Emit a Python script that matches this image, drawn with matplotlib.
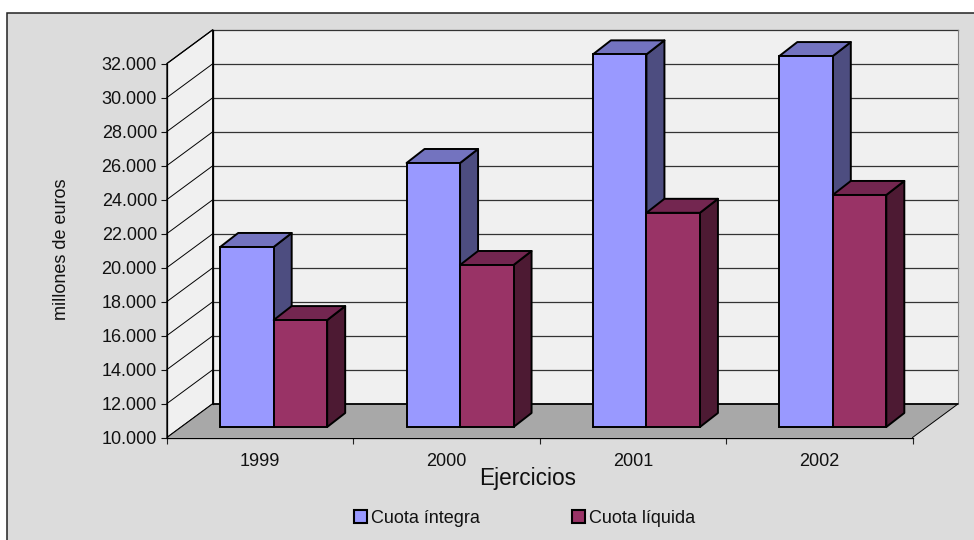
import numpy as np
import matplotlib
matplotlib.use('Agg')
import matplotlib.pyplot as plt
from matplotlib.patches import Rectangle, Patch
from matplotlib.ticker import FuncFormatter

years = ['1999', '2000', '2001', '2002']
cuota_integra = [20590, 25530, 31920, 31820]
cuota_liquida = [16290, 19530, 22600, 23650]
y_ticks = list(range(10000, 32001, 2000))

plt.rcParams['font.family'] = ['Liberation Sans', 'DejaVu Sans']

W, H = 974, 540
# pixel position of the front plane of the 3D box
LEFT, RIGHT, TOP, BOTTOM = 167, 912.5, 63.5, 437.5
YMIN, YMAX = 10000, 32000

fig = plt.figure(figsize=(W / 100, H / 100), dpi=100, facecolor='white')
fig.add_artist(Rectangle((7 / W, -0.01), 1.01, 1.01 - 13 / H, transform=fig.transFigure,
                         fc='#dcdcdc', ec='#222222', lw=1.1, zorder=-1))
ax = fig.add_axes([LEFT / W, 1 - BOTTOM / H, (RIGHT - LEFT) / W, (BOTTOM - TOP) / H])
ax.patch.set_visible(False)

# px to data units
px_x = 4 / (RIGHT - LEFT)
px_y = (YMAX - YMIN) / (BOTTOM - TOP)
wall_dx, wall_dy = 45.7 * px_x, 33.7 * px_y
bar_dx, bar_dy = 13.5 * px_x, 10.5 * px_y
depth_dx, depth_dy = 18 * px_x, 14 * px_y
bar_w = 53.5 * px_x

# walls and floor
ax.fill([wall_dx, 4 + wall_dx, 4 + wall_dx, wall_dx],
        [YMIN + wall_dy, YMIN + wall_dy, YMAX + wall_dy, YMAX + wall_dy],
        fc='#f0f0f0', ec='none', clip_on=False, zorder=1)
ax.fill([0, wall_dx, wall_dx, 0], [YMIN, YMIN + wall_dy, YMAX + wall_dy, YMAX],
        fc='#f0f0f0', ec='black', lw=0.9, clip_on=False, zorder=1)
ax.fill([0, 4, 4 + wall_dx, wall_dx], [YMIN, YMIN, YMIN + wall_dy, YMIN + wall_dy],
        fc='#a8a8a8', ec='none', clip_on=False, zorder=1)

for t in y_ticks:
    ax.plot([0, wall_dx], [t, t + wall_dy], color='black', lw=0.7, clip_on=False, zorder=2)
    if t == YMIN:
        ax.plot([wall_dx, 4 + wall_dx], [t + wall_dy, t + wall_dy], color='black', lw=1.3,
                clip_on=False, zorder=2)
    else:
        ax.plot([wall_dx, 4 + wall_dx], [t + wall_dy, t + wall_dy], color='#333333', lw=0.9,
                clip_on=False, zorder=2)
ax.plot([4 + wall_dx, 4 + wall_dx], [YMIN + wall_dy, YMAX + wall_dy], color='#808080', lw=0.8,
        clip_on=False, zorder=2)
ax.plot([wall_dx, wall_dx], [YMIN + wall_dy, YMAX + wall_dy], color='black', lw=0.9,
        clip_on=False, zorder=2)
ax.plot([4, 4 + wall_dx], [YMIN, YMIN + wall_dy], color='black', lw=0.7, clip_on=False, zorder=2)

x = np.arange(len(years)) + 0.5 + bar_dx
series = [(cuota_integra, -bar_w / 2, '#9999ff', '#4d4d80', '#7373bf', 'Cuota íntegra'),
          (cuota_liquida, bar_w / 2, '#993366', '#4d1a33', '#732650', 'Cuota líquida')]
z = 3
for i in range(len(years)):
    for vals, off, front, side, top, name in series:
        xc = x[i] + off
        v = vals[i]
        xl, xr = xc - bar_w / 2, xc + bar_w / 2
        base = YMIN + bar_dy
        tp = v + bar_dy
        ax.fill([xr, xr + depth_dx, xr + depth_dx, xr],
                [base, base + depth_dy, tp + depth_dy, tp],
                fc=side, ec='black', lw=1.4, joinstyle='round', clip_on=False, zorder=z)
        ax.fill([xl, xr, xr + depth_dx, xl + depth_dx],
                [tp, tp, tp + depth_dy, tp + depth_dy],
                fc=top, ec='black', lw=1.4, joinstyle='round', clip_on=False, zorder=z)
        ax.bar(xc, v - YMIN, bar_w, bottom=base, color=front, edgecolor='black', lw=1.4,
               clip_on=False, zorder=z + 0.5)
        z += 1

for s in ['top', 'right']:
    ax.spines[s].set_visible(False)
for s in ['left', 'bottom']:
    ax.spines[s].set_linewidth(0.9)
    ax.spines[s].set_zorder(40)

ax.set_xlim(0, 4)
ax.set_ylim(YMIN, YMAX)
ax.set_yticks(y_ticks)
ax.yaxis.set_major_formatter(FuncFormatter(lambda v, p: f'{int(v):,}'.replace(',', '.')))
ax.set_xticks(range(len(years) + 1))
ax.set_xticklabels([])
ax.set_xticks(np.arange(len(years)) + 0.5, labels=years, minor=True)
ax.tick_params(axis='y', length=4.2, width=0.8, labelsize=13, pad=3, colors='#111111')
ax.tick_params(axis='x', which='major', length=4.2, width=0.8, colors='#222222')
ax.tick_params(axis='x', which='minor', length=0, labelsize=13, pad=11, colors='#111111')

fig.text(528 / W, 1 - 478 / H, 'Ejercicios', fontsize=16.3, ha='center', va='center', color='#111111')
fig.text(62 / W, 1 - 249 / H, 'millones de euros', fontsize=13, rotation=90,
         ha='center', va='center', color='#111111')

handles = [Patch(fc=s[2], ec='black', lw=1.5, label=s[5]) for s in series]
fig.legend(handles=handles, ncol=2, loc='center', bbox_to_anchor=(524.5 / W, 1 - 518.5 / H),
           frameon=False, fontsize=13, handlelength=0.7, handleheight=0.7,
           handletextpad=0.2, columnspacing=5.15, labelcolor='#111111')

fig.savefig('out.png', dpi=100, facecolor='white')
